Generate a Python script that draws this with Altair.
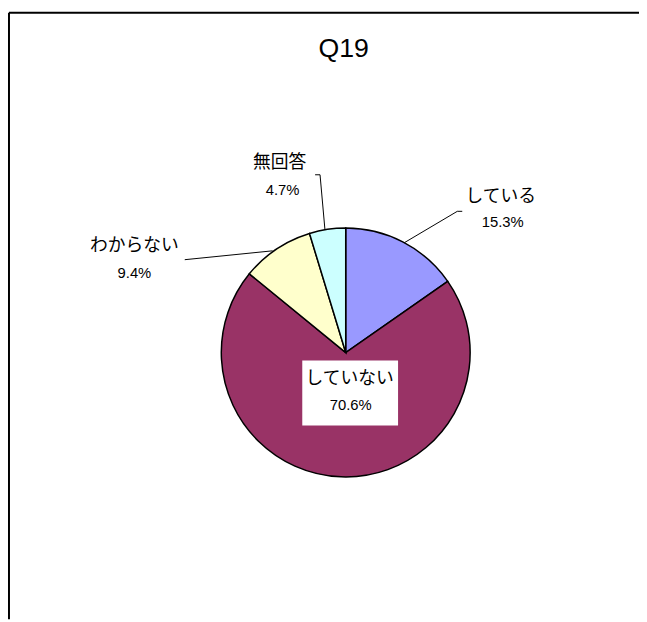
import altair as alt
import pandas as pd

# data
categories = ["している", "していない", "わからない", "無回答"]
values = [15.3, 70.6, 9.4, 4.7]
colors = ["#9999FF", "#993366", "#FFFFCC", "#CCFFFF"]
title_text = "Q19"

df = pd.DataFrame({"cat": categories, "val": values, "idx": list(range(len(categories)))})
df["pct"] = [f"{v:.1f}%" for v in values]

# layout (pixel positions in chart space = page minus 8px margin)
CX, CY, R = 341, 344, 126
name_pos = {"している": (498, 187), "していない": (345, 371), "わからない": (127, 236), "無回答": (274, 152)}
pct_pos = {"している": (500, 212), "していない": (346, 397), "わからない": (127, 264), "無回答": (277, 179)}
leaders = [
    [(400, 233), (454, 201), (459, 201)],
    [(320, 220), (315, 164), (310, 164)],
    [(267, 241), (178, 250)],
]

JP = "Noto Sans CJK JP"
NUM = "Liberation Sans, Arial"

pie = alt.Chart(df).mark_arc(stroke="black", strokeWidth=1.5, radius=R).encode(
    theta=alt.Theta("val:Q", stack=True),
    order=alt.Order("idx:Q"),
    color=alt.Color("cat:N", scale=alt.Scale(domain=categories, range=colors), legend=None),
    x=alt.value(CX),
    y=alt.value(CY),
)

layers = [pie]

# white box behind center label
layers.append(alt.Chart(df.iloc[[0]]).mark_rect(color="white").encode(
    x=alt.value(297), x2=alt.value(394), y=alt.value(352), y2=alt.value(418)))

for c, p in zip(categories, df["pct"]):
    nx, ny = name_pos[c]
    px, py = pct_pos[c]
    sub = df[df["cat"] == c]
    layers.append(alt.Chart(sub).mark_text(font=JP, fontSize=18, color="black").encode(
        text="cat:N", x=alt.value(nx), y=alt.value(ny)))
    layers.append(alt.Chart(sub).mark_text(font=NUM, fontSize=15, color="black").encode(
        text="pct:N", x=alt.value(px), y=alt.value(py)))

for pts in leaders:
    for (x1, y1), (x2, y2) in zip(pts[:-1], pts[1:]):
        layers.append(alt.Chart(df.iloc[[0]]).mark_rule(color="black", strokeWidth=1).encode(
            x=alt.value(x1), y=alt.value(y1), x2=alt.value(x2), y2=alt.value(y2)))

# title
layers.append(alt.Chart(pd.DataFrame({"t": [title_text]})).mark_text(
    font="Liberation Sans, Arial", fontSize=27, color="black").encode(
    text="t:N", x=alt.value(339), y=alt.value(37)))

# frame (top and left edges)
layers.append(alt.Chart(df.iloc[[0]]).mark_rule(color="black", strokeWidth=2).encode(
    x=alt.value(0), x2=alt.value(639), y=alt.value(0)))
layers.append(alt.Chart(df.iloc[[0]]).mark_rule(color="black", strokeWidth=2).encode(
    x=alt.value(0), y=alt.value(0), y2=alt.value(614)))

chart = alt.layer(*layers).properties(
    width=639, height=614,
    autosize=alt.AutoSizeParams(type="fit", contains="padding"),
    padding=0,
).configure_view(stroke=None)

chart.save("out.html", embed_options={"renderer": "svg", "actions": False})
